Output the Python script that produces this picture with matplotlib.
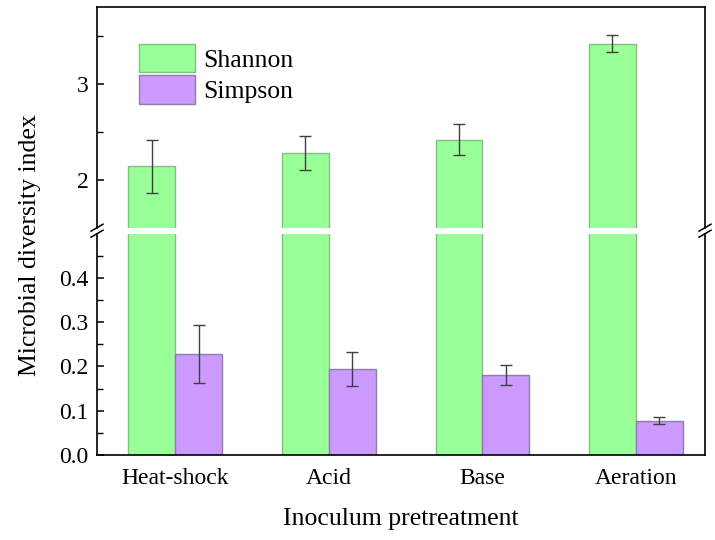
import matplotlib
matplotlib.use("Agg")
import matplotlib.pyplot as plt
import numpy as np
from matplotlib.lines import Line2D

plt.rcParams['font.family'] = ['Liberation Serif', 'DejaVu Serif']

categories = ["Heat-shock", "Acid", "Base", "Aeration"]
shannon = [2.14, 2.28, 2.42, 3.42]
shannon_err = [0.28, 0.18, 0.16, 0.09]
simpson = [0.228, 0.194, 0.181, 0.077]
simpson_err = [0.065, 0.038, 0.022, 0.008]

green = "#99FF99"
green_edge = "#80C080"
purple = "#CC99FF"
purple_edge = "#8C7FA8"
err_color = "#404040"

fig = plt.figure(figsize=(7.15, 5.4), dpi=100)
W, H = 715, 540
left, right = 97 / W, 705 / W
ax_lo = fig.add_axes([left, 1 - 455 / H, right - left, (455 - 233.7) / H])
ax_hi = fig.add_axes([left, 1 - 227.7 / H, right - left, (227.7 - 7.3) / H])

x = np.arange(1, len(categories) + 1)
bw = 0.305

for ax in (ax_lo, ax_hi):
    ax.bar(x - bw / 2, shannon, bw, color=green, edgecolor=green_edge, linewidth=1.0, label="Shannon")
    ax.bar(x + bw / 2, simpson, bw, color=purple, edgecolor=purple_edge, linewidth=1.0, label="Simpson")
    ax.set_xlim(0.49, 4.45)
    for s in ax.spines.values():
        s.set_linewidth(1.2)
    ax.tick_params(axis='y', direction='in', length=5, width=1.1, labelsize=17, pad=6)
    ax.tick_params(axis='y', which='minor', direction='in', length=4, width=1.0)

ax_hi.errorbar(x - bw / 2, shannon, yerr=shannon_err, fmt='none', ecolor=err_color,
               elinewidth=1.0, capsize=4, capthick=1.0)
ax_lo.errorbar(x + bw / 2, simpson, yerr=simpson_err, fmt='none', ecolor=err_color,
               elinewidth=1.0, capsize=4, capthick=1.0)

ax_lo.set_ylim(0, 0.5)
ax_lo.set_yticks([0.0, 0.1, 0.2, 0.3, 0.4])
ax_lo.set_yticklabels(["0.0", "0.1", "0.2", "0.3", "0.4"])
ax_lo.set_yticks([0.05, 0.15, 0.25, 0.35, 0.45], minor=True)
ax_lo.spines['top'].set_visible(False)
ax_lo.set_xticks(x)
ax_lo.set_xticklabels(categories)
ax_lo.tick_params(axis='x', length=0, labelsize=17, pad=9)
ax_lo.set_xlabel("Inoculum pretreatment", fontsize=18.5, labelpad=14)

ax_hi.set_ylim(1.5, 3.8)
ax_hi.set_yticks([2, 3])
ax_hi.set_yticklabels(["2", "3"])
ax_hi.set_yticks([2.5, 3.5], minor=True)
ax_hi.spines['bottom'].set_visible(False)
ax_hi.set_xticks([])

fig.text(30 / W, 1 - 245 / H, "Microbial diversity index", rotation=90,
         ha='center', va='center', fontsize=18.5)

leg = ax_hi.legend(loc='upper left', bbox_to_anchor=(0.069, 0.83 + 0.0), frameon=False,
                   fontsize=18.5, handlelength=2.2, handleheight=1.32, handletextpad=0.3,
                   labelspacing=0.12, borderpad=0, borderaxespad=0)
leg.set_bbox_to_anchor((0.069, 1 - (44 - 7.3) / 220.4 + 0.0), transform=ax_hi.transAxes)

# break marks
for xp in (left, right):
    for yp in (1 - 227.7 / H, 1 - 233.7 / H):
        fig.add_artist(Line2D([xp - 6 / W, xp + 6 / W], [yp - 3.5 / H, yp + 3.5 / H],
                              transform=fig.transFigure, color='black', linewidth=1.1))

fig.savefig("out.png", dpi=100)
